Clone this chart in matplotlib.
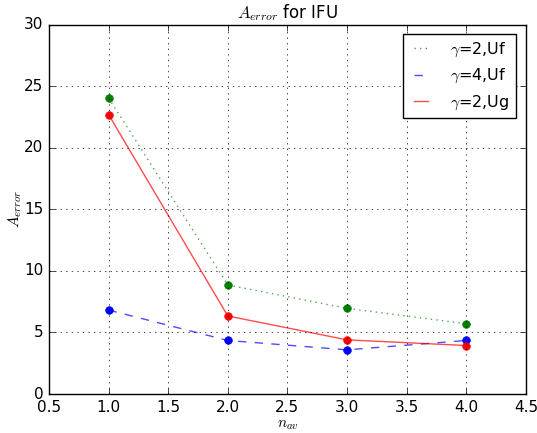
import numpy as np
import matplotlib
matplotlib.use('Agg')
import matplotlib.pyplot as plt

plt.style.use('classic')

n_av = [1.0, 2.0, 3.0, 4.0]
err_g2_uf = [24.05, 8.86, 6.96, 5.71]
err_g4_uf = [6.82, 4.35, 3.59, 4.35]
err_g2_ug = [22.7, 6.34, 4.4, 3.94]

fig = plt.figure(figsize=(5.37, 4.33), dpi=100)
ax = fig.add_axes([0.0912, 0.090, 0.888, 0.853])

ax.plot(n_av, err_g2_uf, 'g:', alpha=0.7, label=r'$\gamma$=2,Uf')
ax.plot(n_av, err_g4_uf, 'b--', alpha=0.7, label=r'$\gamma$=4,Uf')
ax.plot(n_av, err_g2_ug, 'r-', alpha=0.7, label=r'$\gamma$=2,Ug')
ax.plot(n_av, err_g2_uf, 'o', color='g', mec='g', ms=5.5)
ax.plot(n_av, err_g4_uf, 'o', color='b', mec='b', ms=5.5)
ax.plot(n_av, err_g2_ug, 'o', color='r', mec='r', ms=5.5)

ax.set_xlim(0.5, 4.5)
ax.set_ylim(0, 30)
ax.grid(True)
ax.set_title(r'$A_{error}$ for IFU', fontsize=12)
ax.set_xlabel(r'$n_{av}$', fontsize=11, labelpad=2)
ax.set_ylabel(r'$A_{error}$', fontsize=11, labelpad=0)
ax.tick_params(labelsize=11)
ax.legend(loc='upper right', fontsize=11.5, handlelength=1.5,
          handletextpad=1.1, labelspacing=0.5, borderaxespad=0.6)

fig.savefig('out.png', dpi=100)
